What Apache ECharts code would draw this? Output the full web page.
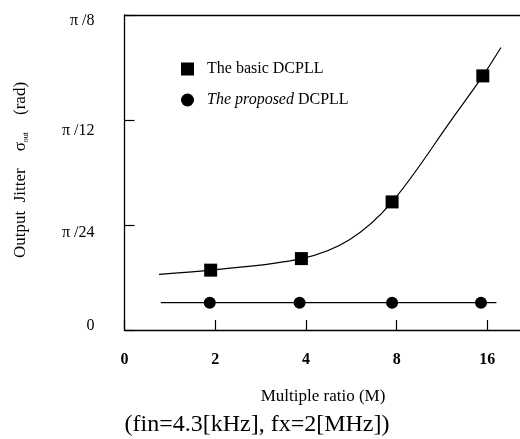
<!DOCTYPE html>
<html>
<head>
<meta charset="utf-8">
<script src="https://cdn.jsdelivr.net/npm/echarts@6/dist/echarts.min.js"></script>
<style>
  html, body { margin: 0; padding: 0; background: #fff; }
  #chart { width: 520px; height: 439px; }
</style>
</head>
<body>
<div id="chart"></div>
<script>
// x is the position index on the axis (0,1,2,3,4 -> M = 0,2,4,8,16)
const xTickLabels = ['0', '2', '4', '8', '16']
const yTickLabels = ['0', 'π /24', 'π /12', 'π /8'] // y in units of π/24

// measured points
const basicX = [0.95, 1.95, 2.95, 3.95]
const basicY = [0.57, 0.68, 1.22, 2.42]
const proposedX = [0.94, 1.93, 2.95, 3.93]
const proposedY = [0.26, 0.26, 0.26, 0.26]

// fitted curves
const basicFitX = [0.38, 0.95, 1.95, 2.48, 2.95, 3.62, 3.95, 4.15]
const basicFitY = [0.53, 0.57, 0.68, 0.86, 1.22, 2.02, 2.42, 2.69]
const proposedFitX = [0.40, 4.10]
const proposedFitY = [0.26, 0.26]

const serif = 'Liberation Serif'
const zip = (xs, ys) => xs.map((x, i) => [x, ys[i]])

// the printed y labels sit a little below their ticks
const yLabelRich = {
  l0: { fontSize: 16, fontFamily: serif, color: '#000', padding: [0, 0, 8, 0] },
  l1: { fontSize: 16, fontFamily: serif, color: '#000', padding: [16, 0, 0, 0] },
  l2: { fontSize: 16, fontFamily: serif, color: '#000', padding: [22, 0, 0, 0] },
  l3: { fontSize: 16, fontFamily: serif, color: '#000', padding: [12, 0, 0, 0] }
}

const chart = echarts.init(document.getElementById('chart'))

chart.setOption({
  animation: false,
  backgroundColor: '#fff',
  textStyle: { fontFamily: serif, color: '#000' },
  grid: { left: 124.5, right: 0, top: 15, bottom: 109 },
  legend: {
    orient: 'vertical',
    left: 176,
    top: 56,
    itemWidth: 13,
    itemHeight: 13,
    itemGap: 15,
    data: ['The basic DCPLL', 'The proposed DCPLL'],
    formatter: name => name === 'The proposed DCPLL' ? '{i|The proposed} DCPLL' : name,
    textStyle: {
      fontFamily: serif, fontSize: 16, color: '#000', padding: [0, 0, 0, 8],
      rich: { i: { fontFamily: serif, fontSize: 16, fontStyle: 'italic', color: '#000' } }
    }
  },
  xAxis: [
    {
      type: 'value',
      min: 0,
      max: 4.36,
      interval: 1,
      splitLine: { show: false },
      axisLine: { lineStyle: { color: '#000', width: 1.3 } },
      axisTick: { inside: true, length: 10, lineStyle: { color: '#000', width: 1.2 } },
      axisLabel: {
        margin: 22, fontSize: 16, fontWeight: 'bold', fontFamily: serif, color: '#000',
        showMaxLabel: false,
        formatter: v => Number.isInteger(v) ? xTickLabels[v] : ''
      }
    },
    {
      type: 'value',
      position: 'top',
      min: 0,
      max: 4.36,
      splitLine: { show: false },
      axisLine: { show: true, lineStyle: { color: '#000', width: 1.3 } },
      axisTick: { show: false },
      axisLabel: { show: false }
    }
  ],
  yAxis: {
    type: 'value',
    min: 0,
    max: 3,
    interval: 1,
    splitLine: { show: false },
    axisLine: { lineStyle: { color: '#000', width: 1.3 } },
    axisTick: { inside: true, length: 10, lineStyle: { color: '#000', width: 1.2 } },
    axisLabel: {
      margin: 30, fontSize: 16, fontFamily: serif, color: '#000',
      formatter: v => '{l' + v + '|' + yTickLabels[v] + '}',
      rich: yLabelRich
    }
  },
  graphic: [
    {
      type: 'text',
      x: 21, y: 170,
      rotation: Math.PI / 2,
      style: {
        text: 'Output  Jitter    σ{s|out}    (rad)',
        font: '17px "Liberation Serif"',
        fill: '#000',
        align: 'center',
        verticalAlign: 'middle',
        rich: { s: { fontSize: 8, fontFamily: serif, verticalAlign: 'bottom', fill: '#000' } }
      }
    },
    {
      type: 'text',
      x: 323, y: 397,
      style: {
        text: 'Multiple ratio (M)',
        font: '17px "Liberation Serif"',
        fill: '#000', align: 'center', verticalAlign: 'middle'
      }
    },
    {
      type: 'text',
      x: 257, y: 425,
      style: {
        text: '(fin=4.3[kHz], fx=2[MHz])',
        font: '24px "Liberation Serif"',
        fill: '#000', align: 'center', verticalAlign: 'middle'
      }
    }
  ],
  series: [
    {
      name: 'basic fit',
      type: 'line',
      data: zip(basicFitX, basicFitY),
      smooth: 0.35,
      showSymbol: false,
      silent: true,
      lineStyle: { color: '#000', width: 1.2 }
    },
    {
      name: 'proposed fit',
      type: 'line',
      data: zip(proposedFitX, proposedFitY),
      showSymbol: false,
      silent: true,
      lineStyle: { color: '#000', width: 1.2 }
    },
    {
      name: 'The basic DCPLL',
      type: 'scatter',
      symbol: 'rect',
      symbolSize: 13,
      itemStyle: { color: '#000', opacity: 1 },
      data: zip(basicX, basicY)
    },
    {
      name: 'The proposed DCPLL',
      type: 'scatter',
      symbol: 'circle',
      symbolSize: 12,
      itemStyle: { color: '#000', opacity: 1 },
      data: zip(proposedX, proposedY)
    }
  ]
})
</script>
</body>
</html>
